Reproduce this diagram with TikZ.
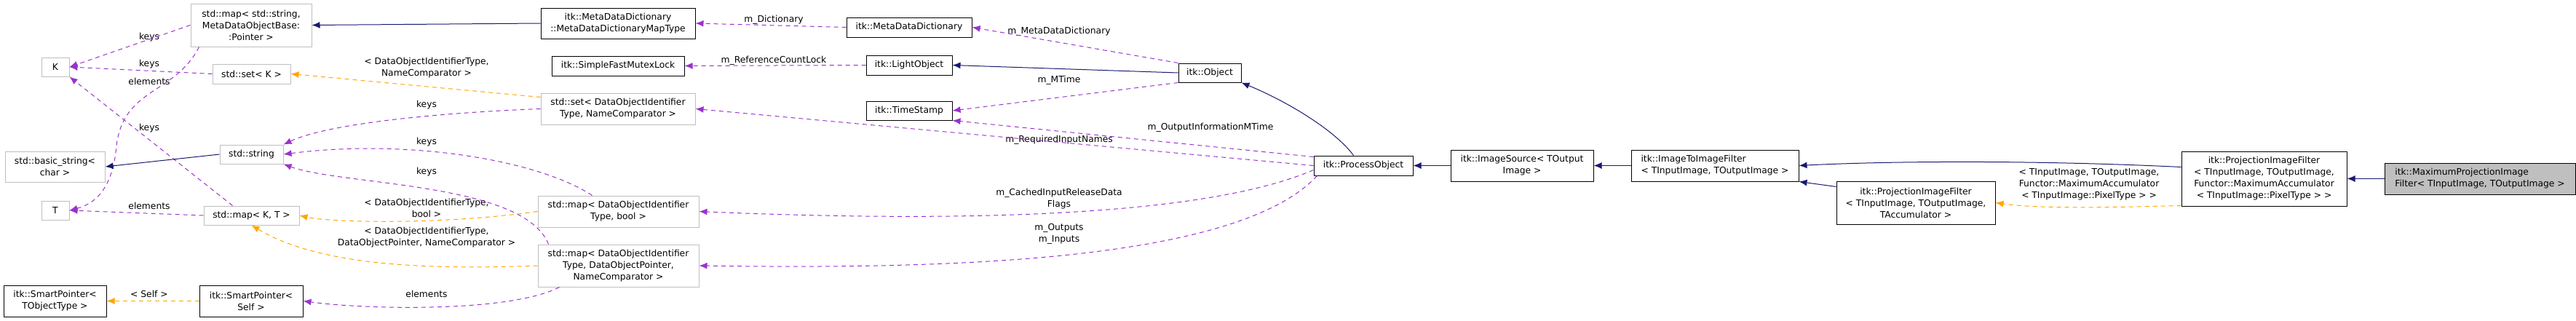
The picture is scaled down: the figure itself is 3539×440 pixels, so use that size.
\documentclass[tikz,border=0pt]{standalone}
\usepackage{fontspec}
\setmainfont{DejaVu Sans}
\usetikzlibrary{arrows.meta,positioning}
\definecolor{edgepurple}{HTML}{9A32CD}
\definecolor{edgeorange}{HTML}{FFA500}
\definecolor{edgenavy}{HTML}{191970}
\definecolor{boxgray}{HTML}{BFBFBF}
\tikzset{
  cls/.style={draw=black, line width=1pt, fill=white, align=center, inner sep=1pt,
    font=\fontsize{12.3}{16}\selectfont},
  tpl/.style={cls, draw=boxgray},
  lbl/.style={align=center, inner sep=0pt, font=\fontsize{12.3}{16}\selectfont},
  inherit/.style={draw=edgenavy, line width=1pt, -{Latex[length=11pt,width=9pt]}},
  usage/.style={draw=edgepurple, line width=1pt, dash pattern=on 6pt off 5pt, -{Latex[length=11pt,width=9pt]}},
  templ/.style={draw=edgeorange, line width=1pt, dash pattern=on 6pt off 5pt, -{Latex[length=11pt,width=9pt]}}
}
\begin{document}
\begin{tikzpicture}[x=1pt,y=-1pt]
  \useasboundingbox (0,0) rectangle (3539,440);
  % std containers
  \node[tpl, minimum width=166, minimum height=59] (mapStr) at (345,34.5) {std::map< std::string,\\MetaDataObjectBase:\\:Pointer >};
  \node[tpl, minimum width=38, minimum height=26] (K) at (76,92) {K};
  \node[tpl, minimum width=107, minimum height=27] (setK) at (345.5,101.5) {std::set< K >};
  \node[tpl, minimum width=137, minimum height=42] (basicStr) at (75.5,229) {std::basic\_string<\\char >};
  \node[tpl, minimum width=87, minimum height=26] (str) at (345.5,212) {std::string};
  \node[tpl, minimum width=38, minimum height=26] (T) at (76,289) {T};
  \node[tpl, minimum width=131, minimum height=26] (mapKT) at (345.5,296) {std::map< K, T >};
  \node[cls, minimum width=141, minimum height=43] (spObj) at (75.5,413.5) {itk::SmartPointer<\\TObjectType >};
  \node[cls, minimum width=142, minimum height=43] (spSelf) at (345,413.5) {itk::SmartPointer<\\Self >};
  % second column
  \node[cls, minimum width=212, minimum height=42] (mddMap) at (849,32) {itk::MetaDataDictionary\\::MetaDataDictionaryMapType};
  \node[cls, minimum width=182, minimum height=27] (mutex) at (849,90.5) {itk::SimpleFastMutexLock};
  \node[tpl, minimum width=212, minimum height=43] (setDOI) at (849,149.5) {std::set< DataObjectIdentifier\\Type, NameComparator >};
  \node[tpl, minimum width=221, minimum height=43] (mapBool) at (849.5,290.5) {std::map< DataObjectIdentifier\\Type, bool >};
  \node[tpl, minimum width=221, minimum height=58] (mapDOP) at (849.5,365) {std::map< DataObjectIdentifier\\Type, DataObjectPointer,\\NameComparator >};
  % itk objects
  \node[cls, minimum width=172, minimum height=27] (mdd) at (1249,37.5) {itk::MetaDataDictionary};
  \node[cls, minimum width=118, minimum height=27] (light) at (1249,89.5) {itk::LightObject};
  \node[cls, minimum width=118, minimum height=26] (stamp) at (1249,152) {itk::TimeStamp};
  \node[cls, minimum width=86, minimum height=26] (obj) at (1662,100) {itk::Object};
  \node[cls, minimum width=136, minimum height=27] (proc) at (1873,227.5) {itk::ProcessObject};
  \node[cls, minimum width=196, minimum height=43] (isrc) at (2091,227.5) {itk::ImageSource< TOutput\\Image >};
  \node[cls, minimum width=230, minimum height=43, align=left] (i2i) at (2356,227.5) {itk::ImageToImageFilter\\< TInputImage, TOutputImage >};
  \node[cls, minimum width=218, minimum height=59] (projAcc) at (2632,278.5) {itk::ProjectionImageFilter\\< TInputImage, TOutputImage,\\TAccumulator >};
  \node[cls, minimum width=227, minimum height=75] (projMax) at (3110.5,245.5) {itk::ProjectionImageFilter\\< TInputImage, TOutputImage,\\Functor::MaximumAccumulator\\< TInputImage::PixelType > >};
  \node[cls, fill=boxgray, minimum width=262, minimum height=43, align=left] (maxProj) at (3407,245.5) {itk::MaximumProjectionImage\\Filter< TInputImage, TOutputImage >};
  % labels
  \node[lbl] (lKeys1) at (205,51) {keys};
  \node[lbl] (lKeys2) at (205,88) {keys};
  \node[lbl] (lElem1) at (205,112) {elements};
  \node[lbl] (lKeys3) at (205,176) {keys};
  \node[lbl] (lElem2) at (205,283) {elements};
  \node[lbl] (lSelf) at (205,404) {< Self >};
  \node[lbl] (lSetDOI) at (586,93) {< DataObjectIdentifierType,\\NameComparator >};
  \node[lbl] (lKeys4) at (586,144) {keys};
  \node[lbl] (lKeys5) at (586,195) {keys};
  \node[lbl] (lKeys6) at (586,236) {keys};
  \node[lbl] (lBool) at (586,286) {< DataObjectIdentifierType,\\bool >};
  \node[lbl] (lDOP) at (586,326) {< DataObjectIdentifierType,\\DataObjectPointer, NameComparator >};
  \node[lbl] (lElem3) at (586,404) {elements};
  \node[lbl] (lDict) at (1063,27) {m\_Dictionary};
  \node[lbl] (lLock) at (1063,83) {m\_ReferenceCountLock};
  \node[lbl] (lMDD) at (1455,43) {m\_MetaDataDictionary};
  \node[lbl] (lMTime) at (1455,110) {m\_MTime};
  \node[lbl] (lOutMT) at (1663,175) {m\_OutputInformationMTime};
  \node[lbl] (lReq) at (1455,192) {m\_RequiredInputNames};
  \node[lbl] (lCache) at (1455,273) {m\_CachedInputReleaseData\\Flags};
  \node[lbl] (lIO) at (1455,321) {m\_Outputs\\m\_Inputs};
  \node[lbl] (lAcc) at (2870,253) {< TInputImage, TOutputImage,\\Functor::MaximumAccumulator\\< TInputImage::PixelType > >};
  % connectors
  \draw[inherit] (mddMap.west) -- (mapStr.east);
  \draw[usage] (mapStr.west) -- (K.east);
  \draw[usage] (mapStr.south west) ++(12,0) .. controls (240,130) and (170,120) .. (160,200) .. controls (155,260) and (130,280) .. (T.east);
  \draw[usage] (setK.west) -- (K.east);
  \draw[usage] (mapKT.north west) ++(40,0) -- (K.south east);
  \draw[usage] (mapKT.west) -- (T.east);
  \draw[inherit] (str.west) -- (basicStr.east);
  \draw[templ] (setDOI.west) ++(0,-16) -- (setK.east);
  \draw[usage] (setDOI.west) .. controls (600,155) and (450,170) .. (str.north east);
  \draw[usage] (mapBool.north west) ++(75,0) .. controls (740,220) and (560,190) .. (str.east);
  \draw[usage] (mapDOP.north west) ++(15,0) .. controls (720,250) and (470,255) .. (str.south east);
  \draw[templ] (mapBool.west) .. controls (600,310) and (450,305) .. (mapKT.east);
  \draw[templ] (mapDOP.west) .. controls (560,372) and (430,360) .. (mapKT.south);
  \draw[usage] (mapDOP.south west) ++(30,0) .. controls (700,430) and (500,425) .. (spSelf.east);
  \draw[templ] (spSelf.west) -- (spObj.east);
  \draw[usage] (mdd.west) -- (mddMap.east);
  \draw[usage] (light.west) -- (mutex.east);
  \draw[usage] (obj.north west) -- (mdd.east);
  \draw[inherit] (obj.west) -- (light.east);
  \draw[usage] (obj.south west) -- (stamp.east);
  \draw[usage] (proc.west) ++(0,-12) -- (stamp.south east);
  \draw[usage] (proc.west) -- (setDOI.east);
  \draw[usage] (proc.south west) ++(0,-8) .. controls (1650,300) and (1300,305) .. (mapBool.east);
  \draw[usage] (proc.south west) ++(5,0) .. controls (1700,360) and (1300,370) .. (mapDOP.east);
  \draw[inherit] (proc.north west) ++(55,0) .. controls (1835,180) and (1770,140) .. (obj.south east);
  \draw[inherit] (isrc.west) -- (proc.east);
  \draw[inherit] (i2i.west) -- (isrc.east);
  \draw[inherit] (projMax.west) ++(0,-16) .. controls (2800,220) and (2600,221) .. (i2i.east);
  \draw[inherit] (projAcc.north west) ++(0,8) -- (i2i.south east);
  \draw[templ] (projMax.west) ++(0,37) .. controls (2900,285) and (2800,287) .. (projAcc.east);
  \draw[inherit] (maxProj.west) -- (projMax.east);
\end{tikzpicture}
\end{document}
